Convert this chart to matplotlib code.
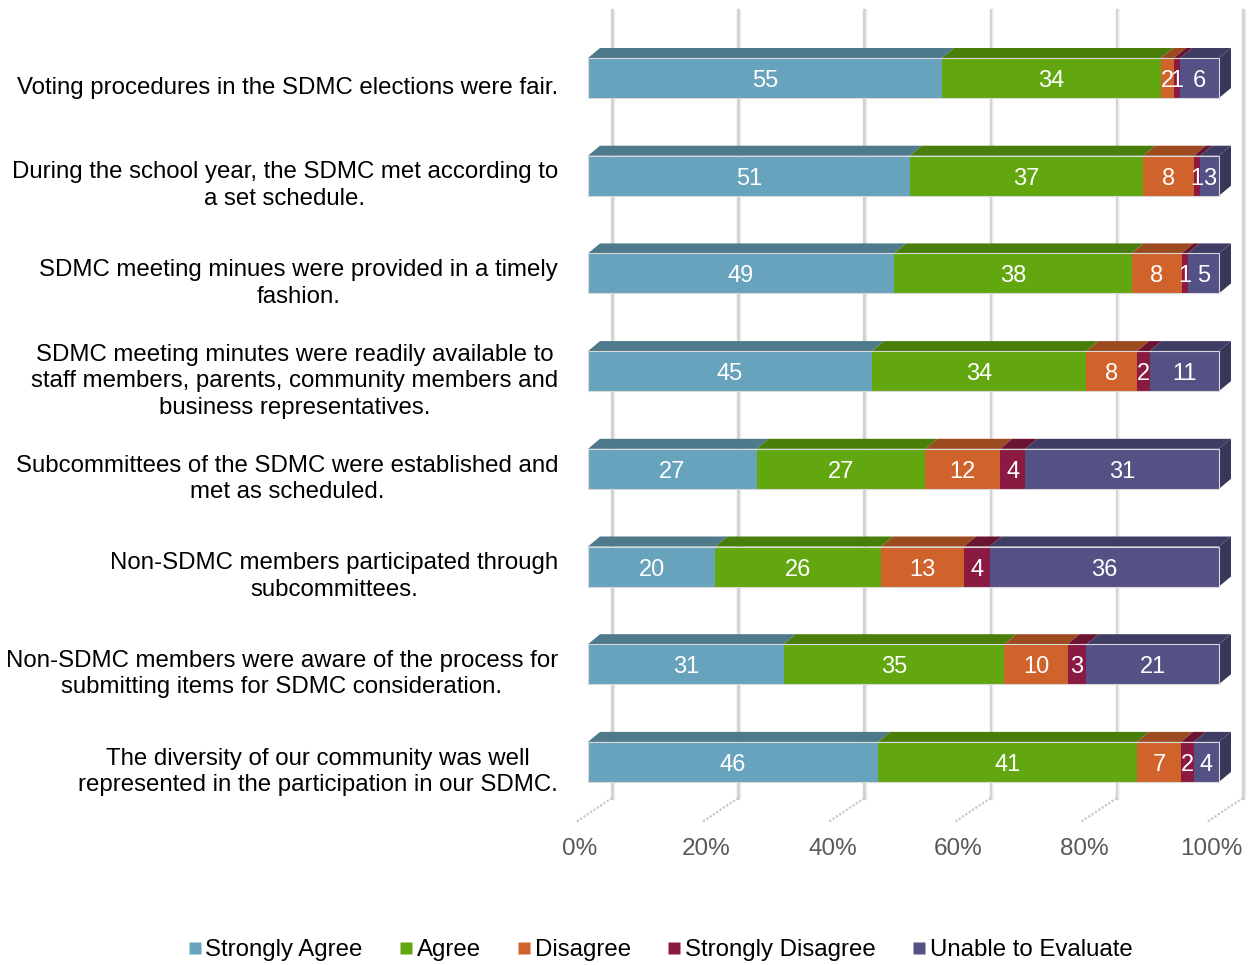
import matplotlib
matplotlib.use("Agg")
import matplotlib.pyplot as plt
from matplotlib.patches import Polygon, Rectangle
from matplotlib.lines import Line2D

plt.rcParams['font.family'] = ['Liberation Sans', 'DejaVu Sans']

questions = [
    "Voting procedures in the SDMC elections were fair.",
    "During the school year, the SDMC met according to\na set schedule.",
    "SDMC meeting minues were provided in a timely\nfashion.",
    "SDMC meeting minutes were readily available to\nstaff members, parents, community members and\nbusiness representatives.",
    "Subcommittees of the SDMC were established and\nmet as scheduled.",
    "Non-SDMC members participated through\nsubcommittees.",
    "Non-SDMC members were aware of the process for\nsubmitting items for SDMC consideration.",
    "The diversity of our community was well\nrepresented in the participation in our SDMC.",
]
series = ["Strongly Agree", "Agree", "Disagree", "Strongly Disagree", "Unable to Evaluate"]
strongly_agree = [55, 51, 49, 45, 27, 20, 31, 46]
agree = [34, 37, 38, 34, 27, 26, 35, 41]
disagree = [2, 8, 8, 8, 12, 13, 10, 7]
strongly_disagree = [1, 1, 1, 2, 4, 4, 3, 2]
unable = [6, 3, 5, 11, 31, 36, 21, 4]
ticks = [0, 20, 40, 60, 80, 100]

front_cols = ['#68a3bd', '#62a710', '#d0622b', '#8b1a42', '#545185']
top_cols = ['#4e7a8c', '#4a7e0b', '#9c4a20', '#6a1432', '#3f3d66']
side_col = '#393759'

W, H = 1249, 965
fig = plt.figure(figsize=(W / 100, H / 100), dpi=100)

# plot area in pixels: x 0%..100% -> 588..1219, rows centred at 78 + 97.7*i
px0, px1 = 588, 1219
py_top, py_bot = 0, 880
row0, pitch = 78, 97.7
ax = fig.add_axes([px0 / W, 1 - py_bot / H, (px1 - px0) / W, (py_bot - py_top) / H])
ax.set_xlim(0, 100)
ax.set_ylim((py_bot - row0) / pitch, (py_top - row0) / pitch)
ax.axis('off')

ppx = (px1 - px0) / 100.0          # pixels per percent


def ry(py):
    return (py - row0) / pitch


dx, dy = 12 / ppx, 10 / pitch      # bar depth
h = 40 / pitch                     # front face height

# back wall gridlines and floor lines
for t in ticks:
    xb = t + 24 / ppx
    ax.plot([xb, xb], [ry(10), ry(798)], color='#d2d2d2', lw=2.4, zorder=1, clip_on=False)
    ax.plot([xb + 1.5 / ppx, xb + 1.5 / ppx], [ry(10), ry(798)], color='#ececec', lw=1.0,
            zorder=1, clip_on=False)
    ax.plot([xb, t - 12 / ppx], [ry(798), ry(822)], color='#c8c8c8', lw=1.6,
            ls=(0, (1, 0.8)), zorder=1, clip_on=False)
    ax.text(t - 8 / ppx, ry(849), f"{t}%", ha='center', va='center', fontsize=17.5,
            color='#595959', clip_on=False)

data = [strongly_agree, agree, disagree, strongly_disagree, unable]
for i in range(len(questions)):
    vals = [d[i] for d in data]
    tot = float(sum(vals))
    left = 0.0
    top = i - h / 2
    for j, v in enumerate(vals):
        w = v / tot * 100
        x0, x1 = left, left + w
        ax.add_patch(Polygon([(x0, top), (x1, top), (x1 + dx, top - dy), (x0 + dx, top - dy)],
                             closed=True, facecolor=top_cols[j], edgecolor='none', zorder=3,
                             clip_on=False))
        ax.add_patch(Rectangle((x0, top), w, h, facecolor=front_cols[j], edgecolor='none',
                               zorder=4, clip_on=False))
        ax.text((x0 + x1) / 2, i + 3 / pitch, str(v), ha='center', va='center', color='white',
                fontsize=17, zorder=6, clip_on=False)
        left = x1
    ax.add_patch(Polygon([(100, top), (100 + dx, top - dy), (100 + dx, top + h - dy), (100, top + h)],
                         closed=True, facecolor=side_col, edgecolor='none', zorder=3,
                         clip_on=False))
    ax.add_patch(Rectangle((0, top), 100, h, facecolor='none', edgecolor='#d8d8d8', lw=0.8,
                           zorder=5, clip_on=False))
    ax.text(-30 / ppx, i + 10 / pitch, questions[i], ha='right', va='center',
            multialignment='center', fontsize=17.3, color='black', linespacing=1.27,
            clip_on=False)

handles = [Line2D([], [], marker='s', ls='none', markersize=9, markerfacecolor=c,
                  markeredgecolor='none') for c in front_cols]
fig.legend(handles, series, loc='center', bbox_to_anchor=(660 / W, 1 - 950 / H), ncol=5,
           frameon=False, fontsize=17.3, handlelength=0.6, handletextpad=0.15,
           columnspacing=1.5, borderaxespad=0)

fig.savefig('out.png', dpi=100)
